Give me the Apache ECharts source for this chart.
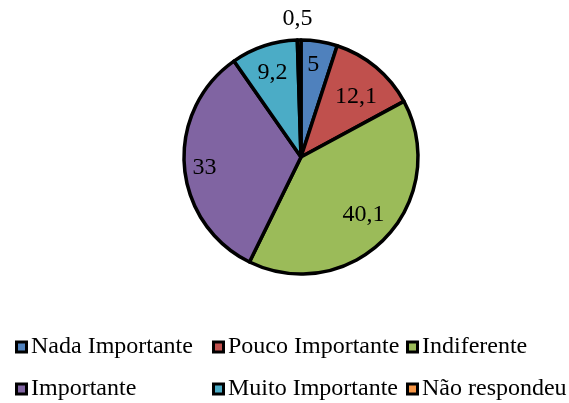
<!DOCTYPE html>
<html>
<head>
<meta charset="utf-8">
<style>
  html, body { margin: 0; padding: 0; background: #fff; }
  #chart { width: 569px; height: 403px; }
</style>
<script src="https://cdn.jsdelivr.net/npm/echarts@6/dist/echarts.min.js"></script>
</head>
<body>
<div id="chart"></div>
<script>
// Categories and their percentages
const categories = ['Nada Importante', 'Pouco Importante', 'Indiferente', 'Importante', 'Muito Importante', 'Não respondeu'];
const values = [5, 12.1, 40.1, 33, 9.2, 0.5];
const valueLabels = ['5', '12,1', '40,1', '33', '9,2', '0,5'];

const colors = ['#4F81BD', '#C0504D', '#9BBB59', '#8064A2', '#4BACC6', '#F79646'];
const FONT = '"Liberation Serif", "Times New Roman", serif';

const CENTER = [301, 157];
const R = 117;

// small nudges for the value labels, per slice
const labelNudge = [[-2, -3], [-3, 9], [-3, -5], [-6, 4], [0, 2], [-2, -48]];

// legend columns: [left edge, names]
const legendColumns = [
  [15, [categories[0], categories[3]]],
  [212, [categories[1], categories[4]]],
  [406, [categories[2], categories[5]]]
];

const chart = echarts.init(document.getElementById('chart'), null, { renderer: 'canvas' });

const textStyle = { fontFamily: FONT, fontSize: 24, color: '#000', lineHeight: 24 };

// black square behind each key, carrying the legend text
const frameLegend = (left, names) => ({
  orient: 'vertical',
  icon: 'rect',
  itemWidth: 13,
  itemHeight: 13,
  itemGap: 18,
  top: 335,
  left: left,
  padding: 0,
  selectedMode: false,
  itemStyle: { color: '#000', borderWidth: 0 },
  textStyle: Object.assign({}, textStyle, { padding: [0, 0, 0, -2] }),
  data: names,
  z: 4
});

// coloured fill inside each black square
const swatchLegend = (left, names) => ({
  orient: 'vertical',
  icon: 'rect',
  itemWidth: 7,
  itemHeight: 7,
  itemGap: 18,
  top: 335,
  left: left + 3,
  padding: 0,
  selectedMode: false,
  itemStyle: { borderWidth: 0 },
  textStyle: Object.assign({}, textStyle, { color: 'rgba(0,0,0,0)' }),
  data: names,
  z: 5
});

chart.setOption({
  animation: false,
  color: colors,
  legend: legendColumns.map(c => frameLegend(c[0], c[1]))
    .concat(legendColumns.map(c => swatchLegend(c[0], c[1]))),
  series: [
    {
      name: 'main',
      type: 'pie',
      center: CENTER,
      radius: [0, R],
      startAngle: 90,
      clockwise: true,
      avoidLabelOverlap: false,
      label: { show: false },
      labelLine: { show: false },
      itemStyle: { borderColor: '#000', borderWidth: 3.5 },
      emphasis: { disabled: true },
      data: categories.map((c, i) => ({ name: c, value: values[i] }))
    },
    {
      // transparent ring that only carries the value labels
      name: 'labels',
      type: 'pie',
      center: CENTER,
      radius: [R * 0.5, R],
      startAngle: 90,
      clockwise: true,
      silent: true,
      avoidLabelOverlap: false,
      legendHoverLink: false,
      itemStyle: { color: 'rgba(0,0,0,0)', borderWidth: 0 },
      labelLine: { show: false },
      emphasis: { disabled: true },
      z: 3,
      data: categories.map((c, i) => ({
        name: c,
        value: values[i],
        label: {
          show: true,
          position: 'inside',
          formatter: valueLabels[i],
          fontFamily: FONT,
          fontSize: 24,
          color: '#000',
          offset: labelNudge[i]
        }
      }))
    }
  ]
});
</script>
</body>
</html>
